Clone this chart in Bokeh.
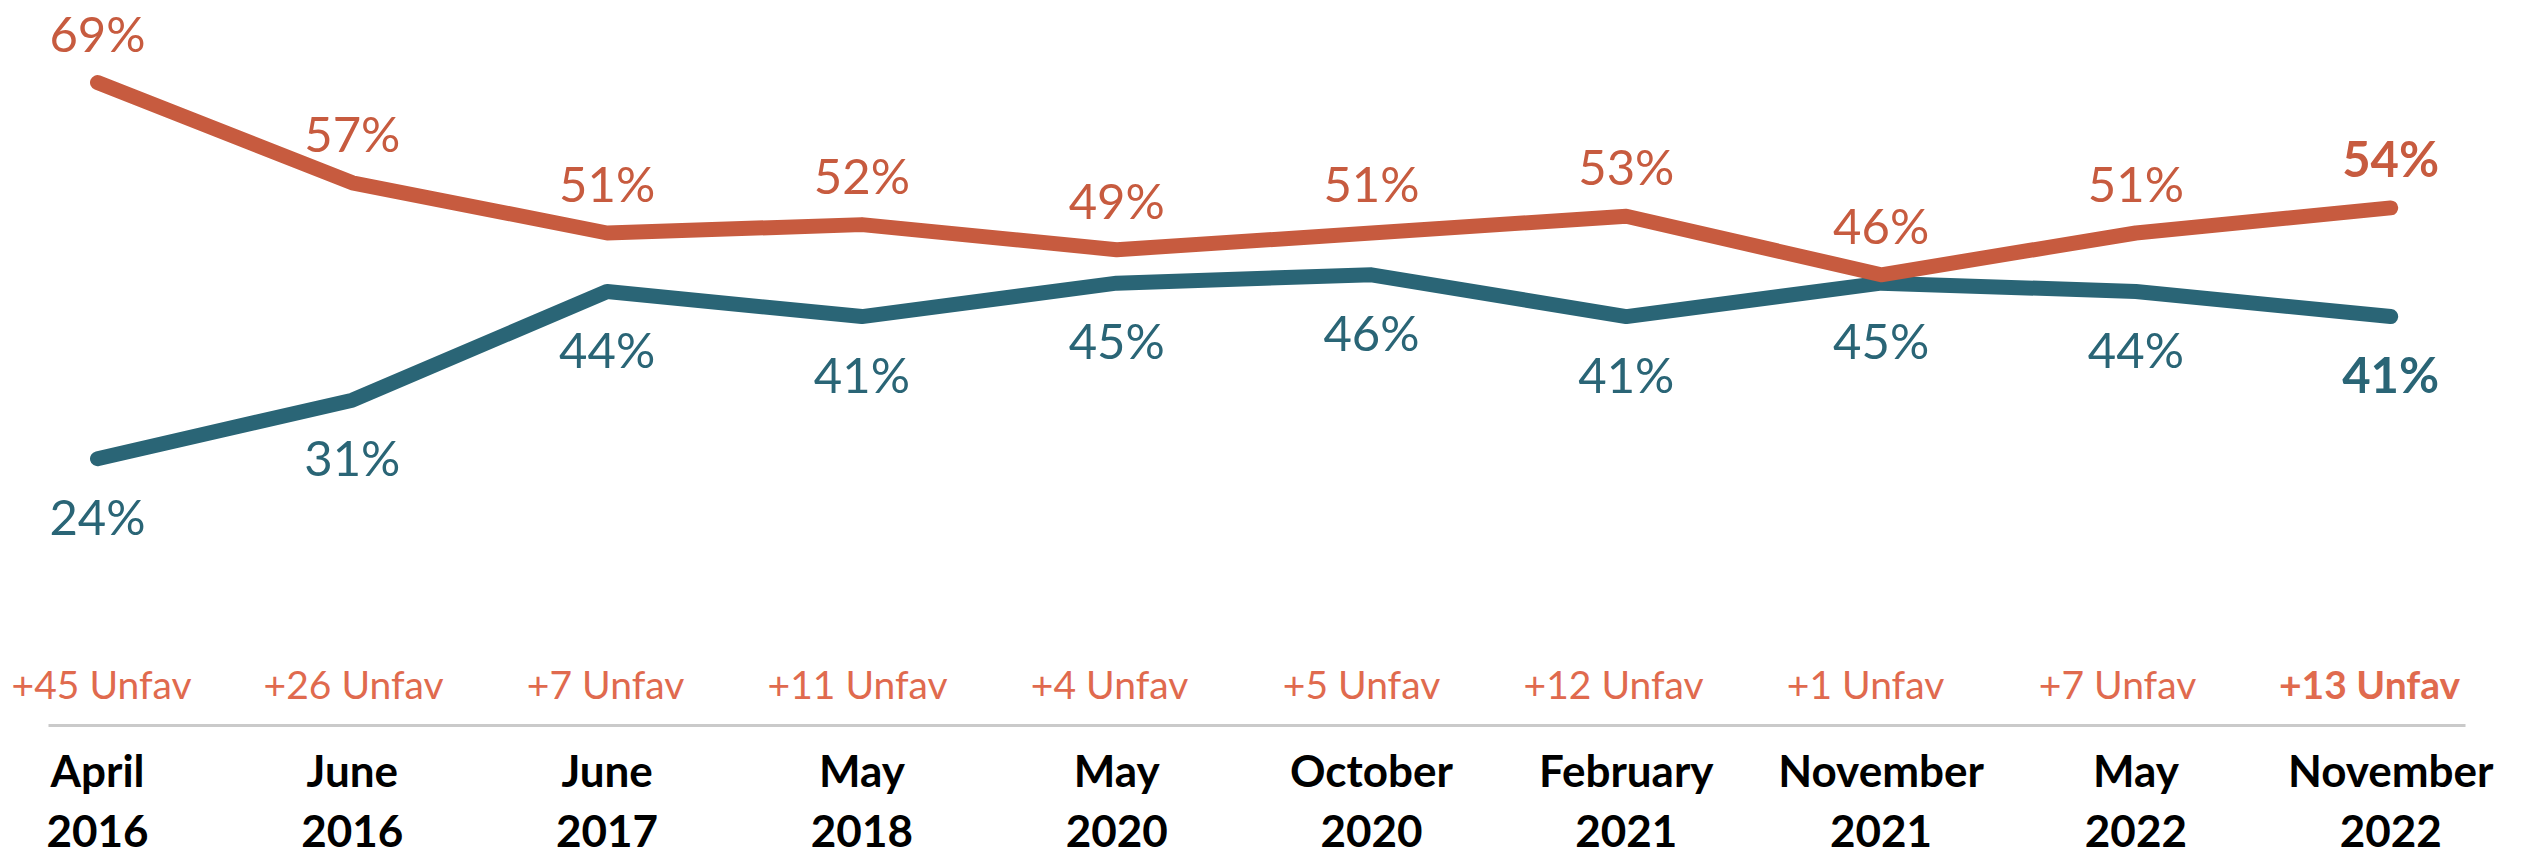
from bokeh.plotting import figure
from bokeh.models import Range1d, FixedTicker, ColumnDataSource
from bokeh.core.properties import value
from bokeh.embed import file_html
from bokeh.resources import INLINE

# ---- data ----
months = ["April", "June", "June", "May", "May", "October", "February", "November", "May", "November"]
years = ["2016", "2016", "2017", "2018", "2020", "2020", "2021", "2021", "2022", "2022"]
unfavorable = [69, 57, 51, 52, 49, 51, 53, 46, 51, 54]
favorable = [24, 31, 44, 41, 45, 46, 41, 45, 44, 41]
net_unfav = [45, 26, 7, 11, 4, 5, 12, 1, 7, 13]

ORANGE = "#C75B3F"
BLUE = "#2A6576"
UNFAV = "#E06A4E"
GRAY = "#CACACA"
FONT = "Lato"

xs = list(range(len(months)))
n = len(xs)

p = figure(width=2526, height=859,
           x_range=Range1d(-0.3807, 9.5330), y_range=Range1d(-7.913, 78.809),
           output_backend="svg", toolbar_location=None, y_axis_location=None,
           min_border_left=0, min_border_right=0, min_border_top=0,
           min_border_bottom=134, outline_line_color=None)
p.grid.visible = False
p.background_fill_color = "white"
p.border_fill_color = "white"

ax = p.xaxis[0]
ax.ticker = FixedTicker(ticks=xs)
ax.major_label_overrides = {i: f"{months[i]}\n{years[i]}" for i in xs}
ax.bounds = (-0.1923, 9.2936)
ax.axis_line_color = GRAY
ax.axis_line_width = 3
ax.major_tick_line_color = None
ax.minor_tick_line_color = None
ax.major_tick_in = 0
ax.major_tick_out = 0
ax.major_label_standoff = 18
ax.major_label_text_font = FONT
ax.major_label_text_font_style = "bold"
ax.major_label_text_font_size = "44px"
ax.major_label_text_color = "black"
ax.major_label_text_line_height = 1.17

# lines
p.line(xs, favorable, line_color=BLUE, line_width=15, line_cap="round", line_join="round")
p.line(xs, unfavorable, line_color=ORANGE, line_width=15, line_cap="round", line_join="round")

def src(idx, vals, fmt):
    return ColumnDataSource(dict(x=[xs[i] for i in idx], y=[vals[i] for i in idx],
                                 t=[fmt(vals[i]) for i in idx]))

first = list(range(n - 1))
last = [n - 1]

# the net-unfavorable row is laid out as its own slightly narrower row
ROW_STEP = 0.989
ROW_SHIFT = 0.016

for idx, style in ((first, "normal"), (last, "bold")):
    p.text("x", "y", text="t", source=src(idx, unfavorable, lambda v: f"{v}%"),
           text_color=ORANGE, text_font=value(FONT), text_font_size=value("49px"),
           text_font_style=style, text_align="center", text_baseline="alphabetic",
           y_offset=-50)
    p.text("x", "y", text="t", source=src(idx, favorable, lambda v: f"{v}%"),
           text_color=BLUE, text_font=value(FONT), text_font_size=value("49px"),
           text_font_style=style, text_align="center", text_baseline="alphabetic",
           y_offset=57)
    ysrc = ColumnDataSource(dict(x=[xs[i] * ROW_STEP + ROW_SHIFT for i in idx],
                                 y=[p.y_range.start] * len(idx),
                                 t=[f"+{net_unfav[i]} Unfav" for i in idx]))
    p.text("x", "y", text="t", source=ysrc,
           text_color=UNFAV, text_font=value(FONT), text_font_size=value("39px"),
           text_font_style=style, text_align="center", text_baseline="alphabetic",
           y_offset=-42)

open("out.html", "w").write(file_html(p, INLINE))
